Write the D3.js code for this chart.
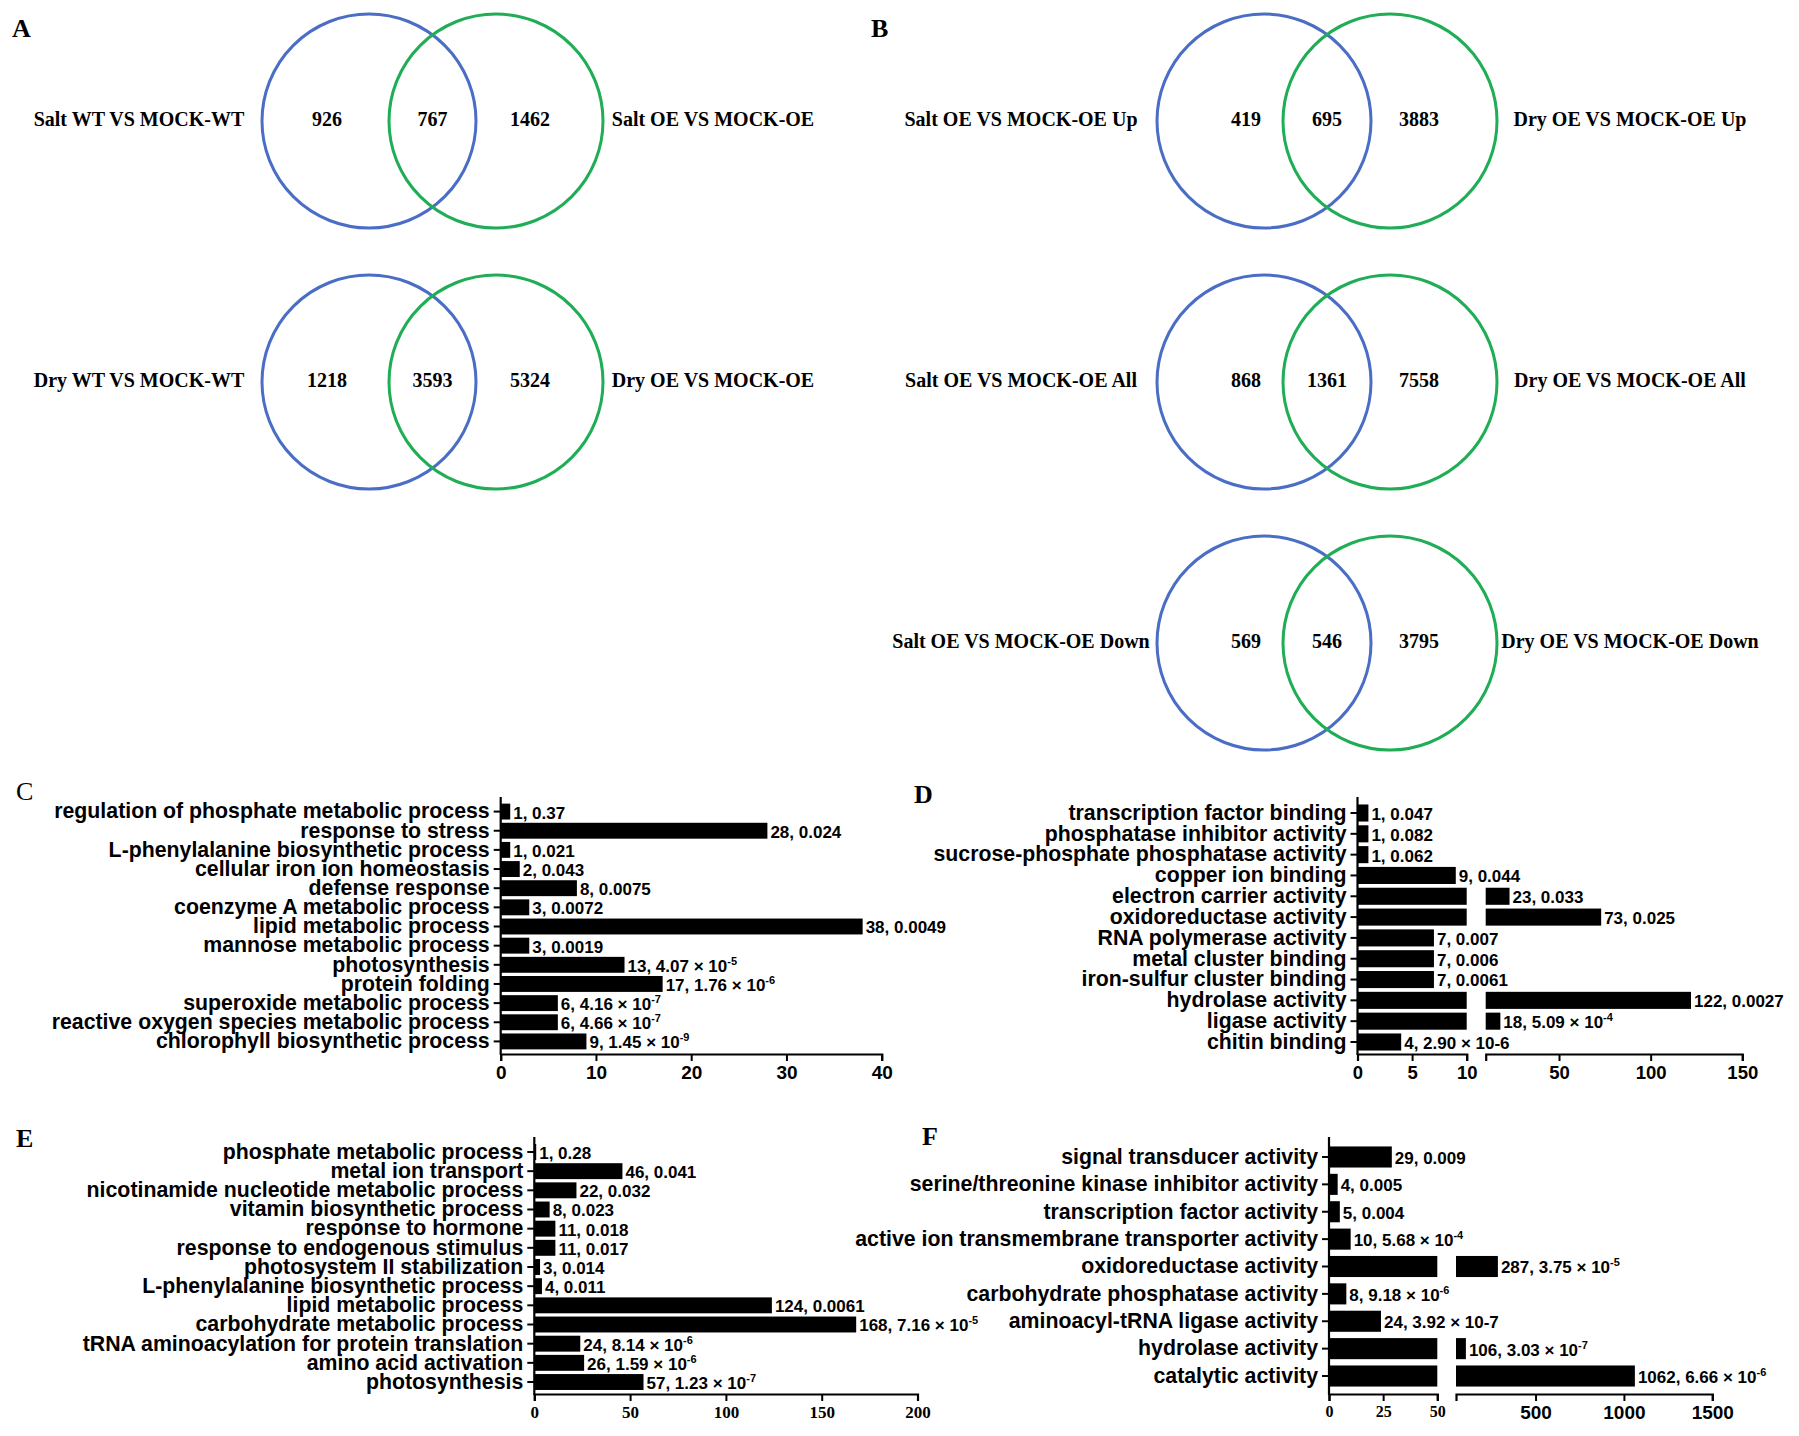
<!DOCTYPE html>
<html><head><meta charset="utf-8">
<script src="https://cdn.jsdelivr.net/npm/d3@7"></script>
<style>body{margin:0;background:#fff} svg{display:block}</style>
</head><body>
<script>
// ---------------- DATA ----------------
// Panel A Venn diagrams
const vennALeftLabels  = ["Salt WT VS MOCK-WT", "Dry WT VS MOCK-WT"];
const vennARightLabels = ["Salt OE VS MOCK-OE", "Dry OE VS MOCK-OE"];
const vennALeftOnly    = [926, 1218];
const vennAShared      = [767, 3593];
const vennARightOnly   = [1462, 5324];
// Panel B Venn diagrams
const vennBLeftLabels  = ["Salt OE VS MOCK-OE Up", "Salt OE VS MOCK-OE All", "Salt OE VS MOCK-OE Down"];
const vennBRightLabels = ["Dry OE VS MOCK-OE Up", "Dry OE VS MOCK-OE All", "Dry OE VS MOCK-OE Down"];
const vennBLeftOnly    = [419, 868, 569];
const vennBShared      = [695, 1361, 546];
const vennBRightOnly   = [3883, 7558, 3795];

// Panel C
const cCategories = ["regulation of phosphate metabolic process","response to stress","L-phenylalanine biosynthetic process","cellular iron ion homeostasis","defense response","coenzyme A metabolic process","lipid metabolic process","mannose metabolic process","photosynthesis","protein folding","superoxide metabolic process","reactive oxygen species metabolic process","chlorophyll biosynthetic process"];
const cCounts = [1,28,1,2,8,3,38,3,13,17,6,6,9];
const cPvalues = ["0.37","0.024","0.021","0.043","0.0075","0.0072","0.0049","0.0019","4.07 × 10^-5","1.76 × 10^-6","4.16 × 10^-7","4.66 × 10^-7","1.45 × 10^-9"];
const cTicks = [0,10,20,30,40];

// Panel D
const dCategories = ["transcription factor binding","phosphatase inhibitor activity","sucrose-phosphate phosphatase activity","copper ion binding","electron carrier activity","oxidoreductase activity","RNA polymerase activity","metal cluster binding","iron-sulfur cluster binding","hydrolase activity","ligase activity","chitin binding"];
const dCounts = [1,1,1,9,23,73,7,7,7,122,18,4];
const dPvalues = ["0.047","0.082","0.062","0.044","0.033","0.025","0.007","0.006","0.0061","0.0027","5.09 × 10^-4","2.90 × 10-6"];
const dTicksLow = [0,5,10];
const dTicksHigh = [50,100,150];

// Panel E
const eCategories = ["phosphate metabolic process","metal ion transport","nicotinamide nucleotide metabolic process","vitamin biosynthetic process","response to hormone","response to endogenous stimulus","photosystem II stabilization","L-phenylalanine biosynthetic process","lipid metabolic process","carbohydrate metabolic process","tRNA aminoacylation for protein translation","amino acid activation","photosynthesis"];
const eCounts = [1,46,22,8,11,11,3,4,124,168,24,26,57];
const ePvalues = ["0.28","0.041","0.032","0.023","0.018","0.017","0.014","0.011","0.0061","7.16 × 10^-5","8.14 × 10^-6","1.59 × 10^-6","1.23 × 10^-7"];
const eTicks = [0,50,100,150,200];

// Panel F
const fCategories = ["signal transducer activity","serine/threonine kinase inhibitor activity","transcription factor activity","active ion transmembrane transporter activity","oxidoreductase activity","carbohydrate phosphatase activity","aminoacyl-tRNA ligase activity","hydrolase activity","catalytic activity"];
const fCounts = [29,4,5,10,287,8,24,106,1062];
const fPvalues = ["0.009","0.005","0.004","5.68 × 10^-4","3.75 × 10^-5","9.18 × 10^-6","3.92 × 10-7","3.03 × 10^-7","6.66 × 10^-6"];
const fTicksLow = [0,25,50];
const fTicksHigh = [500,1000,1500];

// ---------------- DRAWING ----------------
const W = 1799, H = 1436;
const SERIF = "'Liberation Serif','Times New Roman',serif";
const SANS = "'Liberation Sans',Arial,sans-serif";
const BLUE = "#4a6dc5", GREEN = "#1fad55";

const svg = d3.select("body").append("svg")
  .attr("width", W).attr("height", H)
  .style("background", "#fff");

function panelLetter(txt, x, y, weight) {
  svg.append("text").attr("x", x).attr("y", y).text(txt)
    .attr("font-family", SERIF).attr("font-size", 26)
    .attr("font-weight", weight || "bold").attr("fill", "#000");
}

panelLetter("A", 12, 37);
panelLetter("B", 871, 37);
panelLetter("C", 16, 800, "normal");
panelLetter("D", 914, 803);
panelLetter("E", 16, 1147);
panelLetter("F", 922, 1145);

// Venn panels
function vennPanel(cfg) {
  const n = cfg.left.length;
  const rowY = d3.scaleLinear().domain([0, 1]).range([121, 382]);
  const r = 107;
  const g = svg.append("g");
  for (let i = 0; i < n; i++) {
    const cy = rowY(i);
    const bx = cfg.blueX, gx = cfg.greenX;
    g.append("circle").attr("cx", bx).attr("cy", cy).attr("r", r)
      .attr("fill", "none").attr("stroke", BLUE).attr("stroke-width", 3);
    g.append("circle").attr("cx", gx).attr("cy", cy).attr("r", r)
      .attr("fill", "none").attr("stroke", GREEN).attr("stroke-width", 3);
    const texts = [
      [cfg.left[i], cfg.leftLabelX],
      [cfg.leftOnly[i], bx + cfg.leftOff],
      [cfg.shared[i], (bx + gx) / 2],
      [cfg.rightOnly[i], gx + cfg.rightOff],
      [cfg.right[i], cfg.rightLabelX]
    ];
    texts.forEach(([t, x]) => {
      g.append("text").attr("x", x).attr("y", cy - 2).attr("dy", "0.35em")
        .attr("text-anchor", "middle")
        .attr("font-family", SERIF).attr("font-weight", "bold").attr("font-size", 20)
        .attr("fill", "#000").text(t);
    });
  }
}

vennPanel({left: vennALeftLabels, right: vennARightLabels, leftOnly: vennALeftOnly,
  shared: vennAShared, rightOnly: vennARightOnly,
  blueX: 369, greenX: 496, leftOff: -42, rightOff: 34, leftLabelX: 139, rightLabelX: 713});
vennPanel({left: vennBLeftLabels, right: vennBRightLabels, leftOnly: vennBLeftOnly,
  shared: vennBShared, rightOnly: vennBRightOnly,
  blueX: 1264, greenX: 1390, leftOff: -18, rightOff: 29, leftLabelX: 1021, rightLabelX: 1630});

// Bar panels
function addPLabel(sel, count, p) {
  if (p.includes("^")) {
    const [base, exp] = p.split("^");
    sel.append("tspan").text(count + ", " + base);
    sel.append("tspan").text(exp).attr("font-size", 11).attr("dy", -7);
  } else {
    sel.text(count + ", " + p);
  }
}

function barPanel(cfg) {
  const g = svg.append("g");
  const data = cfg.cats.map((c, i) => ({c, v: cfg.counts[i], p: cfg.pvals[i]}));
  const y = d3.scaleBand().domain(cfg.cats).range(cfg.yRange)
    .paddingInner(cfg.pad).paddingOuter(cfg.pad / 2);
  const segs = cfg.segs.map(s => ({...s, x: d3.scaleLinear().domain(s.domain).range(s.range)}));
  const x0 = segs[0].x(segs[0].domain[0]);

  // bars
  data.forEach(d => {
    segs.forEach((s, si) => {
      const lo = s.domain[0], hi = s.domain[1];
      if (si > 0 && d.v <= lo) return;
      const vEnd = Math.min(d.v, hi);
      g.append("rect")
        .attr("x", s.x(lo)).attr("y", y(d.c))
        .attr("width", Math.max(0, s.x(vEnd) - s.x(lo)))
        .attr("height", y.bandwidth())
        .attr("fill", "#000");
    });
    // value label
    let seg = segs[0];
    segs.forEach(s => { if (d.v > s.domain[0]) seg = s; });
    const t = g.append("text")
      .attr("x", seg.x(Math.min(d.v, seg.domain[1])) + 3)
      .attr("y", y(d.c) + y.bandwidth() / 2 + 1).attr("dy", "0.35em")
      .attr("font-family", SANS).attr("font-weight", "bold").attr("font-size", 17)
      .attr("fill", "#000");
    addPLabel(t, d.v, d.p);
  });

  // y axis
  const ya = g.append("g").attr("transform", `translate(${x0},0)`)
    .call(d3.axisLeft(y).tickSize(7).tickPadding(4).tickSizeOuter(0));
  ya.select(".domain").remove();
  ya.selectAll("line").attr("stroke", "#000").attr("stroke-width", 2);
  ya.selectAll("text").attr("font-family", SANS).attr("font-weight", "bold")
    .attr("font-size", cfg.catFont).attr("fill", "#000");
  g.append("line").attr("x1", x0).attr("x2", x0).attr("y1", cfg.yTop).attr("y2", cfg.axisY + 1)
    .attr("stroke", "#000").attr("stroke-width", 2.2);

  // x axes (segments)
  segs.forEach(s => {
    const ax = g.append("g").attr("transform", `translate(0,${cfg.axisY})`)
      .call(d3.axisBottom(s.x).tickValues(s.ticks).tickFormat(d3.format("d"))
        .tickSize(7).tickSizeOuter(7).tickPadding(5));
    ax.select(".domain").attr("stroke", "#000").attr("stroke-width", 2.2);
    ax.selectAll("line").attr("stroke", "#000").attr("stroke-width", 2);
    ax.selectAll("text").attr("font-family", s.font).attr("font-weight", "bold")
      .attr("font-size", s.fontSize).attr("fill", "#000");
  });
}

const CAT_FONT = 21.3;

barPanel({cats: cCategories, counts: cCounts, pvals: cPvalues,
  yRange: [802, 1051], pad: 0.17, yTop: 797, axisY: 1054, catFont: CAT_FONT,
  segs: [{domain: [0, 40], range: [500.7, 881.7], ticks: cTicks, font: SANS, fontSize: 19}]});

barPanel({cats: dCategories, counts: dCounts, pvals: dPvalues,
  yRange: [802.6, 1052.4], pad: 0.18, yTop: 797, axisY: 1054, catFont: CAT_FONT,
  segs: [{domain: [0, 10], range: [1357.5, 1466.7], ticks: dTicksLow, font: SANS, fontSize: 18.5},
         {domain: [10, 150], range: [1485.7, 1742.3], ticks: dTicksHigh, font: SANS, fontSize: 18.5}]});

barPanel({cats: eCategories, counts: eCounts, pvals: ePvalues,
  yRange: [1142.4, 1391.6], pad: 0.17, yTop: 1137, axisY: 1394, catFont: CAT_FONT,
  segs: [{domain: [0, 200], range: [534.3, 917.5], ticks: eTicks, font: SERIF, fontSize: 17}]});

barPanel({cats: fCategories, counts: fCounts, pvals: fPvalues,
  yRange: [1143.3, 1389.7], pad: 0.23, yTop: 1137, axisY: 1394, catFont: CAT_FONT,
  segs: [{domain: [0, 50], range: [1329, 1437.3], ticks: fTicksLow, font: SERIF, fontSize: 16},
         {domain: [50, 1500], range: [1456, 1712.3], ticks: fTicksHigh, font: SANS, fontSize: 19}]});
</script>
</body></html>
